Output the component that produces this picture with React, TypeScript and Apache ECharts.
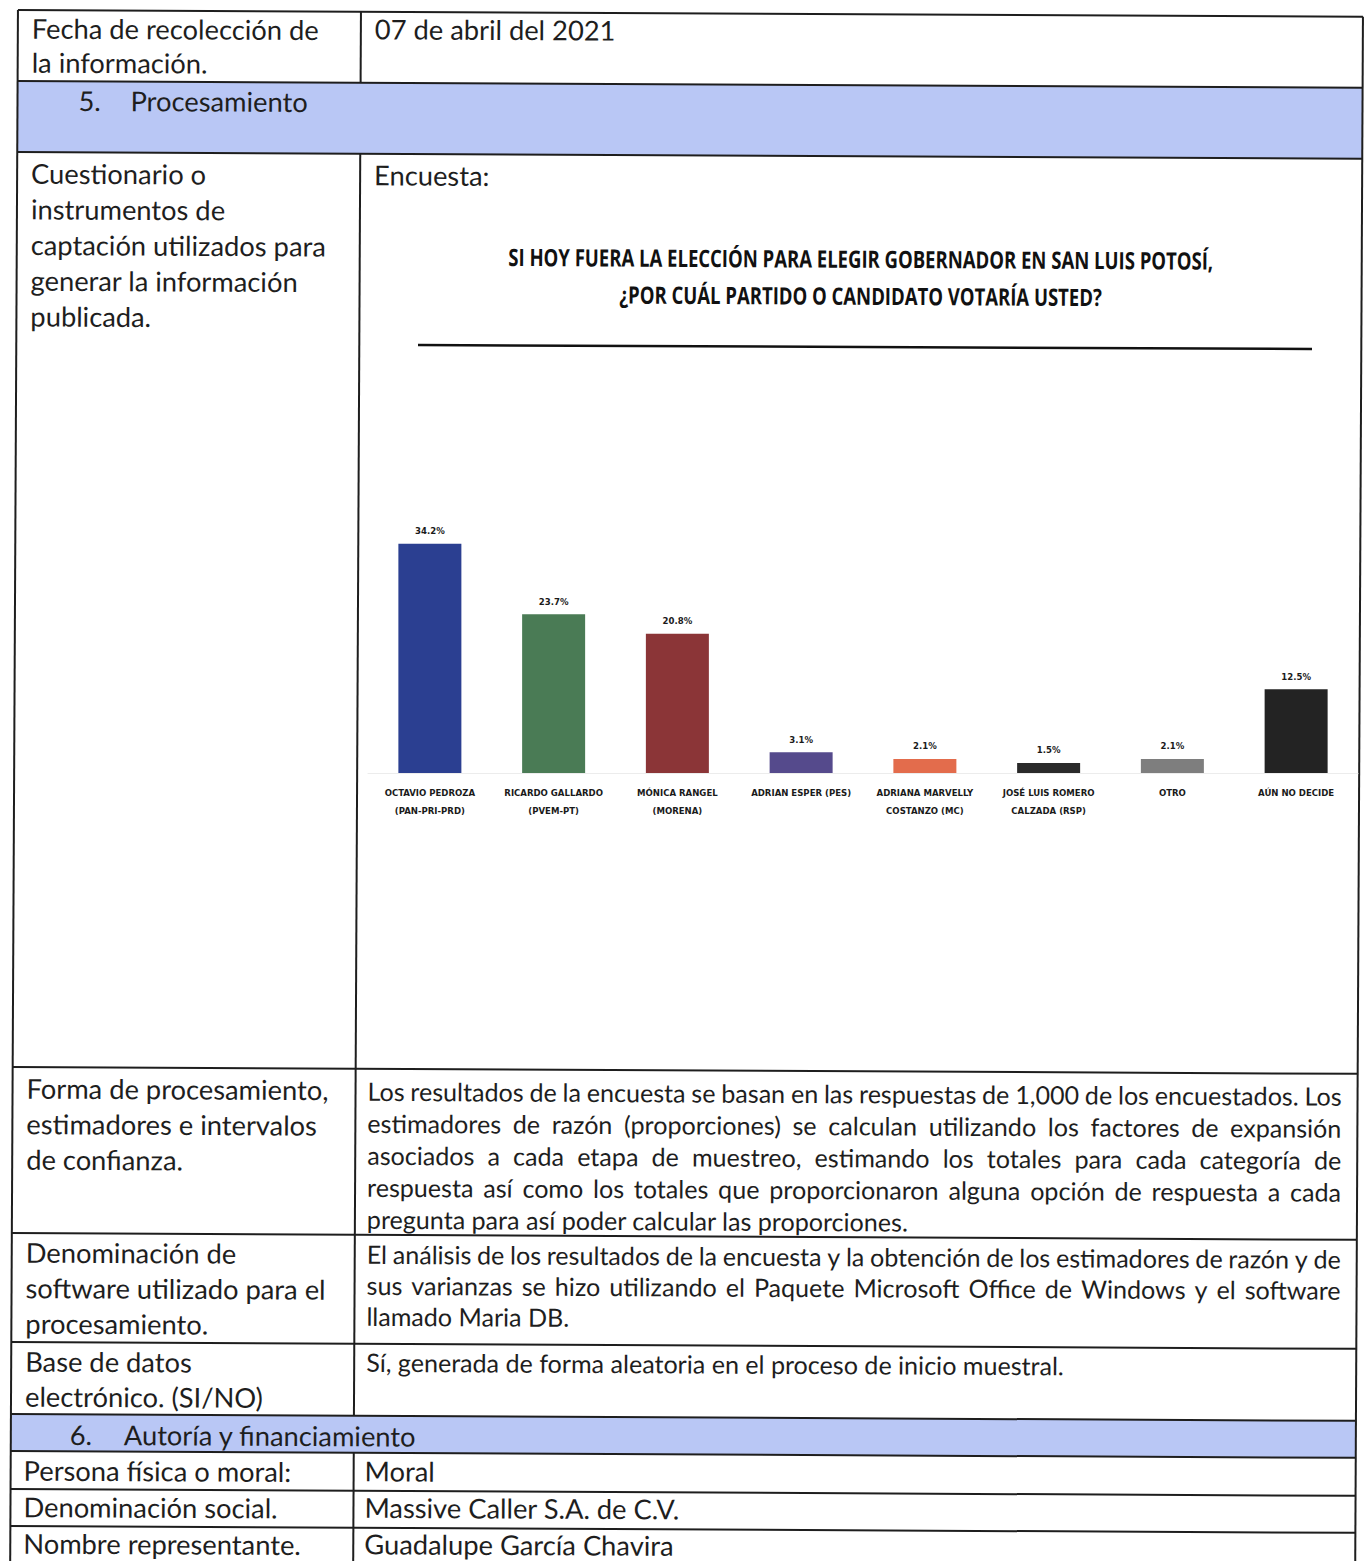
import React, { useEffect, useRef } from "react";
import * as echarts from "echarts";

// ---------- chart data ----------
const categories = [
  "OCTAVIO PEDROZA\n(PAN-PRI-PRD)",
  "RICARDO GALLARDO\n(PVEM-PT)",
  "MÓNICA RANGEL\n(MORENA)",
  "ADRIAN ESPER (PES)",
  "ADRIANA MARVELLY\nCOSTANZO (MC)",
  "JOSÉ LUIS ROMERO\nCALZADA (RSP)",
  "OTRO",
  "AÚN NO DECIDE",
];
const values = [34.2, 23.7, 20.8, 3.1, 2.1, 1.5, 2.1, 12.5];
const barColors = ["#2b3f91", "#4a7b55", "#8b3537", "#554a8c", "#e36c4c", "#2a2a2a", "#7e7e7e", "#232323"];
const chartTitle = [
  "SI HOY FUERA LA ELECCIÓN PARA ELEGIR GOBERNADOR EN SAN LUIS POTOSÍ,",
  "¿POR CUÁL PARTIDO O CANDIDATO VOTARÍA USTED?",
];

// ---------- document text ----------
const dateLabel = ["Fecha de recolección de", "la información."];
const dateValue = "07 de abril del 2021";
const section5 = ["5.", "Procesamiento"];
const questionnaireLabel = [
  "Cuestionario o",
  "instrumentos de",
  "captación utilizados para",
  "generar la información",
  "publicada.",
];
const surveyLabel = "Encuesta:";
const processingLabel = ["Forma de procesamiento,", "estimadores e intervalos", "de confianza."];
const processingText = [
  "Los resultados de la encuesta se basan en las respuestas de 1,000 de los encuestados. Los",
  "estimadores de razón (proporciones) se calculan utilizando los factores de expansión",
  "asociados a cada etapa de muestreo, estimando los totales para cada categoría de",
  "respuesta así como los totales que proporcionaron alguna opción de respuesta a cada",
  "pregunta para así poder calcular las proporciones.",
];
const softwareLabel = ["Denominación de", "software utilizado para el", "procesamiento."];
const softwareText = [
  "El análisis de los resultados de la encuesta y la obtención de los estimadores de razón y de",
  "sus varianzas se hizo utilizando el Paquete Microsoft Office de Windows y el software",
  "llamado Maria DB.",
];
const databaseLabel = ["Base de datos", "electrónico. (SI/NO)"];
const databaseText = "Sí, generada de forma aleatoria en el proceso de inicio muestral.";
const section6 = ["6.", "Autoría y financiamiento"];
const authorLabels = ["Persona física o moral:", "Denominación social.", "Nombre representante."];
const authorValues = ["Moral", "Massive Caller S.A. de C.V.", "Guadalupe García Chavira"];

// ---------- layout ----------
const S = 0.005; // scan skew
const rot = (x: number, y: number): [number, number] => [x - S * y, y + S * x];
const INK = "#1e1e1e";
const BLUE = "#b9c7f5";
const BODY = 'Lato, "Open Sans", sans-serif';
const TITLE = '"Open Sans", Lato, sans-serif';
const SMALL = '"Liberation Sans Narrow", "DejaVu Sans Condensed", sans-serif';

const X_L = 18;
const X_D = 361;
const X_R = 1363;
const rowLines = [10, 81, 152, 1067, 1233, 1342, 1414, 1451, 1489, 1526];

function App() {
  const ref = useRef<HTMLDivElement>(null);
  useEffect(() => {
    document.body.style.margin = "0";
    const chart = echarts.init(ref.current!, null, { renderer: "svg" });
    const ctx = document.createElement("canvas").getContext("2d")!;
    const measure = (s: string, size: number, family: string, weight = "normal") => {
      ctx.font = `${weight} ${size}px ${family}`;
      return ctx.measureText(s).width;
    };
    const bodySize = (24 * 287) / measure(dateLabel[0], 24, BODY);
    const paraSize = (24 * 698) / measure(databaseText, 24, BODY);

    const T = (x: number, y: number, text: string, size: number, extra: any = {}) => {
      const [rx, ry] = rot(x, y);
      return {
        type: "text",
        x: rx,
        y: ry,
        rotation: -S,
        style: {
          text,
          fill: INK,
          fontSize: size,
          fontFamily: BODY,
          align: "left",
          verticalAlign: "middle",
          textAlign: "left",
          textVerticalAlign: "middle",
          ...extra,
        },
      };
    };
    const block = (lines: string[], x: number, y0: number, lh: number, size: number) =>
      lines.map((l, i) => T(x, y0 + i * lh, l, size));
    const justified = (lines: string[], x0: number, y0: number, lh: number, width: number, size: number) => {
      const els: any[] = [];
      lines.forEach((line, li) => {
        const y = y0 + li * lh;
        if (li === lines.length - 1) {
          els.push(T(x0, y, line, size));
          return;
        }
        const words = line.split(" ");
        const ws = words.map((w) => measure(w, size, BODY));
        const gap = (width - ws.reduce((a, b) => a + b, 0)) / (words.length - 1);
        let x = x0;
        words.forEach((w, i) => {
          els.push(T(x, y, w, size));
          x += ws[i] + gap;
        });
      });
      return els;
    };

    const poly = (x1: number, y1: number, x2: number, y2: number) => ({
      type: "polygon",
      shape: { points: [rot(x1, y1), rot(x2, y1), rot(x2, y2), rot(x1, y2)] },
      style: { fill: BLUE },
    });
    const L = (x1: number, y1: number, x2: number, y2: number) => {
      const a = rot(x1, y1);
      const b = rot(x2, y2);
      return { type: "line", shape: { x1: a[0], y1: a[1], x2: b[0], y2: b[1] }, style: { stroke: INK, lineWidth: 2 } };
    };

    const elements: any[] = [];
    elements.push(poly(X_L, 81, X_R, 152));
    elements.push(poly(X_L, 1414, X_R, 1451));
    rowLines.forEach((y) => elements.push(L(X_L, y, X_R, y)));
    elements.push(L(X_L, 10, X_L, 1580));
    elements.push(L(X_R, 10, X_R, 1580));
    elements.push(L(X_D, 10, X_D, 81));
    elements.push(L(X_D, 152, X_D, 1414));
    elements.push(L(X_D, 1451, X_D, 1580));

    const XL = 32;
    const XR = 373;
    elements.push(...block(dateLabel, XL, 28, 34, bodySize));
    elements.push(T(375, 27, dateValue, bodySize));
    elements.push(T(79, 100, section5[0], bodySize));
    elements.push(T(131, 100, section5[1], bodySize));
    elements.push(...block(questionnaireLabel, XL, 173, 35.7, bodySize));
    elements.push(T(375, 173, surveyLabel, bodySize));
    elements.push(...block(processingLabel, XL, 1088, 35.5, bodySize));
    elements.push(...justified(processingText, XR, 1089, 32, 974, paraSize));
    elements.push(...block(softwareLabel, XL, 1252, 35.5, bodySize));
    elements.push(...justified(softwareText, XR, 1252, 31, 974, paraSize));
    elements.push(...block(databaseLabel, XL, 1361, 35, bodySize));
    elements.push(T(XR, 1360, databaseText, paraSize));
    elements.push(T(77, 1434, section6[0], bodySize));
    elements.push(T(131, 1434, section6[1], bodySize));
    authorLabels.forEach((l, i) => elements.push(T(XL - 1, 1470 + i * 36.5, l, bodySize)));
    authorValues.forEach((l, i) => elements.push(T(XR - 1, 1469 + i * 36.5, l, bodySize)));

    // chart title
    const tScale = 705 / measure(chartTitle[0], 24, TITLE, "bold");
    chartTitle.forEach((t, i) => {
      const [rx, ry] = rot(862, 254 + i * 37);
      elements.push({
        type: "text",
        x: rx,
        y: ry,
        rotation: -S,
        scaleX: tScale,
        style: {
          text: t,
          fill: "#111",
          fontSize: 24,
          fontWeight: "bold",
          fontFamily: TITLE,
          align: "center",
          verticalAlign: "middle",
          textAlign: "center",
          textVerticalAlign: "middle",
        },
      });
    });
    elements.push({
      type: "line",
      shape: { x1: 418, y1: 345, x2: 1312, y2: 349 },
      style: { stroke: "#111", lineWidth: 2.5 },
    });

    const option: any = {
      animation: false,
      backgroundColor: "#ffffff",
      graphic: { elements },
      grid: { left: 368, right: 6, top: 505, bottom: 788, containLabel: false },
      xAxis: {
        type: "category",
        data: categories,
        axisTick: { show: false },
        axisLine: { show: true, lineStyle: { color: "#ececec", width: 1 } },
        axisLabel: {
          interval: 0,
          margin: 10,
          fontSize: 9.5,
          fontWeight: "bold",
          fontFamily: SMALL,
          color: "#1a1a1a",
          lineHeight: 18,
        },
      },
      yAxis: { type: "value", min: 0, max: 40, show: false, splitLine: { show: false } },
      series: [
        {
          type: "bar",
          barWidth: 63,
          data: values.map((v, i) => ({ value: v, itemStyle: { color: barColors[i] } })),
          label: {
            show: true,
            position: "top",
            distance: 8,
            fontSize: 9.5,
            fontWeight: "bold",
            fontFamily: SMALL,
            color: "#1a1a1a",
            formatter: (p: any) => p.value.toFixed(1) + "%",
          },
        },
      ],
    };
    chart.setOption(option);
    return () => chart.dispose();
  }, []);
  return <div ref={ref} style={{ width: 1364, height: 1561 }} />;
}

export default App;
